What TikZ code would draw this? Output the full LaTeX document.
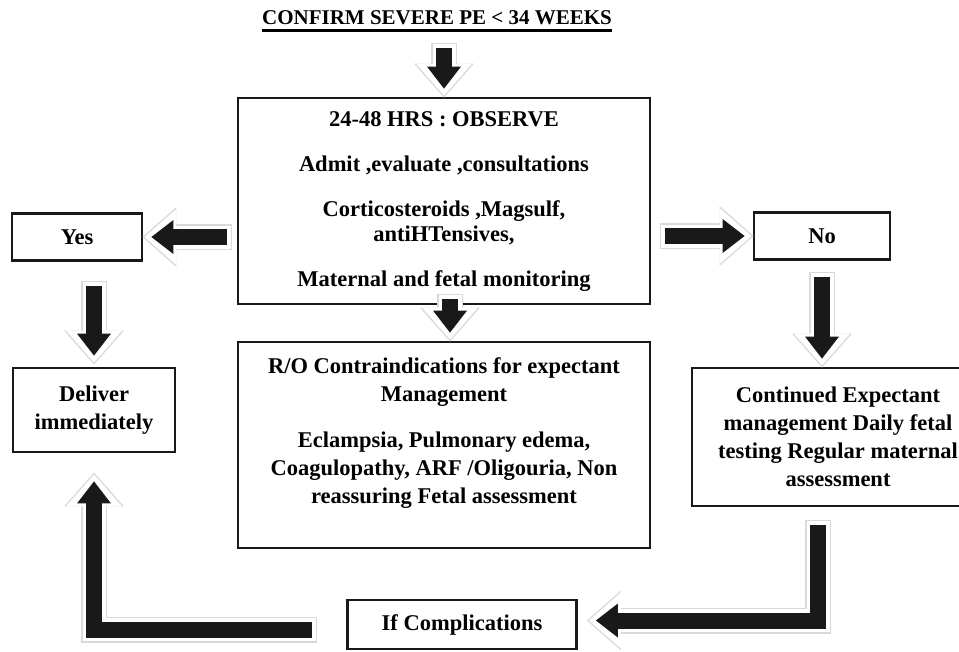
\documentclass[tikz,border=0pt]{standalone}
\usepackage{fontspec}
\setmainfont{Liberation Serif}
\usetikzlibrary{arrows.meta,calc}

\begin{document}
\begin{tikzpicture}[x=1pt,y=-1pt,
  font=\fontsize{22.5}{28}\selectfont\bfseries,
  box/.style={draw=black!90,line width=2.8pt,fill=white,align=center,inner sep=0pt},
  barr/.style={line width=16pt,draw=black!90,line join=miter,
    -{Triangle[length=22pt,width=34pt,line width=0pt]},shorten >=8pt,shorten <=4pt,
    preaction={draw=gray!30,line width=26pt,shorten >=-1pt,shorten <=-1pt,
      -{Triangle[length=34pt,width=60pt,line width=0pt]}},
    preaction={draw=white,line width=23pt,shorten >=1pt,shorten <=0pt,
      -{Triangle[length=32pt,width=56pt,line width=0pt]}}}]
\useasboundingbox (0,0) rectangle (959,651);
\clip (0,0) rectangle (959,651);
% title
\node[inner sep=0pt,font=\fontsize{21}{25}\selectfont\bfseries] (title) at (437,18) {CONFIRM SEVERE PE < 34 WEEKS};
\draw[line width=2.5pt] ([yshift=-5pt]title.south west) -- ([yshift=-5pt]title.south east);
% middle column
\node[box,minimum width=412pt,minimum height=206pt] (obs) at (444,201)
  {24-48 HRS : OBSERVE\\[17pt]Admit ,evaluate ,consultations\\[17pt]
   Corticosteroids ,Magsulf,\\[-3pt]antiHTensives,\\[17pt]Maternal and fetal monitoring};
\node[box,minimum width=412pt,minimum height=206pt] (ro) at (444,445)
  {R/O Contraindications for expectant\\Management\\[18pt]
   Eclampsia, Pulmonary edema,\\Coagulopathy, ARF /Oligouria, Non\\reassuring Fetal assessment\\\mbox{}};
\node[box,minimum width=229pt,minimum height=49pt] (ifc) at (462,624.5) {If Complications};
% left column
\node[box,minimum width=130pt,minimum height=47pt] (yes) at (77,237) {Yes};
\node[box,minimum width=162pt,minimum height=84pt] (del) at (94,410) {Deliver\\immediately};
% right column
\node[box,minimum width=136pt,minimum height=47pt] (no) at (822,236) {No};
\node[box,minimum width=292pt,minimum height=138pt] (cont) at (838,437)
  {Continued Expectant\\management Daily fetal\\testing Regular maternal\\assessment};
% block arrows
\draw[barr] ($(obs.north)+(0,53pt)$) -- (obs.north);
\draw[barr] ($(obs.west |- yes.east)+(-6pt,0)$) -- (yes.east);
\draw[barr] ($(obs.east |- no.west)+(10pt,0)$) -- (no.west);
\draw[barr] ($(del.north |- yes.south)+(0,-20pt)$) -- ([yshift=3pt]del.north);
\draw[barr] ([yshift=-12pt]no.south) -- (no.south |- cont.north);
\draw[barr] ([xshift=6pt,yshift=10pt]obs.south) -- ([xshift=6pt]ro.north);
\draw[barr] ([xshift=-20pt,yshift=-14pt]cont.south) |- ([xshift=10pt,yshift=4pt]ifc.east);
\draw[barr] ([xshift=-30pt,yshift=-5pt]ifc.west) -| ([yshift=-20pt]del.south);
\end{tikzpicture}
\end{document}
